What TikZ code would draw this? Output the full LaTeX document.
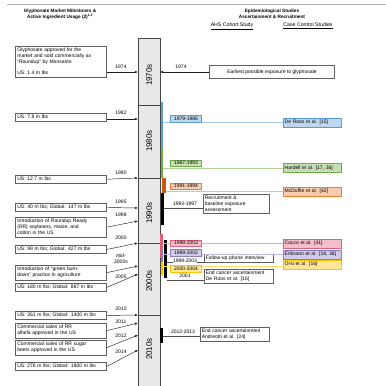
\documentclass[tikz,border=0pt]{standalone}
\usepackage{fontspec}
\setmainfont{Liberation Sans}
\usetikzlibrary{arrows.meta}

\definecolor{cblue}{HTML}{5B9BD5}
\definecolor{cgreen}{HTML}{70AD47}
\definecolor{corange}{HTML}{ED7D31}
\definecolor{cbrown}{HTML}{C55A11}
\definecolor{cred}{HTML}{E0607A}
\definecolor{cpurple}{HTML}{8E7CC3}
\definecolor{cyellow}{HTML}{FFC000}

\begin{document}
\begin{tikzpicture}[x=1pt,y=-1pt,>=Latex,
  txt/.style={font=\fontsize{5}{6}\selectfont},
  milestone/.style={txt,draw=gray!75!black,line width=0.7pt,fill=white,anchor=north west,align=left,text width=87pt,inner sep=2pt},
  note/.style={txt,draw=gray!75!black,line width=0.7pt,fill=white,anchor=north west,align=left,inner sep=1.5pt},
  yr/.style={txt,inner sep=0.5pt,align=center},
  tick/.style={-{Latex[length=3pt,width=2.4pt]},gray!25!black,line width=0.45pt},
  period/.style={txt,draw=#1,fill=#1!40,inner sep=0.8pt,minimum width=31pt,minimum height=6.5pt},
  study/.style={txt,draw=#1,fill=#1!40,anchor=west,align=left,text width=55pt,inner sep=1.5pt,minimum height=9pt},
  link/.style={#1!55,line width=0.6pt},
  decade/.style={rotate=90,font=\fontsize{8}{9}\selectfont}
]
\useasboundingbox (0,0) rectangle (386,386);

% Headings
\draw[gray!60,line width=0.8pt] (7,4) -- (386,4);
\node[font=\bfseries\fontsize{4.7}{5.8}\selectfont,align=center] (hdleft) at (60,14) {Glyphosate Market Milestones \&\\Active Ingredient Usage (2)\textsuperscript{1,2}};
\node[font=\bfseries\fontsize{4.7}{5.8}\selectfont,align=center] (hdright) at (272,14) {Epidemiological Studies\\Ascertainment \& Recruitment};
\node[font=\fontsize{5.2}{6}\selectfont] (ahs) at (232,26) {\underline{AHS Cohort Study}};
\node[font=\fontsize{5.2}{6}\selectfont] (ccs) at (308,26) {\underline{Case Control Studies}};

% Timeline column
\draw[fill=gray!18,draw=gray!55!black,line width=0.6pt] (138,38) rectangle (160,390);
\foreach \y in {105,178,243,315}
\draw[gray!55!black,line width=0.6pt] (138,\y) -- (160,\y);
\foreach \lbl/\y in {1970s/75,1980s/141,1990s/213,2000s/281,2010s/349}
\node[decade] (d\lbl) at (149,\y) {\lbl};

% Column edge points
\foreach \n/\y in {1974/72,1982/119,1990/178,1995/208,1998/221,2000/243,mid/266,2005/274,2010/315,2011/323,2012/335,2014/350}
\coordinate (L\n) at (138,\y);

% Market milestones
\node[milestone] (m1974) at (15,46) {Glyphosate approved for the\\market and sold commercially as\\``Roundup'' by Monsanto\\[5pt]US: 1.4 m lbs};
\node[milestone] (m1982) at (15,113) {US: 7.8 m lbs};
\node[milestone] (m1990) at (15,175) {US: 12.7 m lbs};
\node[milestone] (m1995) at (15,203) {US: 40 m lbs; Global: 147 m lbs};
\node[milestone] (m1998) at (15,217) {Introduction of Roundup Ready\\(RR) soybeans, maize, and\\cotton in the US};
\node[milestone] (m2000) at (15,245) {US: 99 m lbs; Global: 427 m lbs};
\node[milestone] (mmid) at (15,265) {Introduction of ``green burn-\\down'' practice in agriculture};
\node[milestone] (m2005) at (15,283) {US: 180 m lbs; Global: 887 m lbs};
\node[milestone] (m2010) at (15,311) {US: 261 m lbs; Global: 1400 m lbs};
\node[milestone] (m2011) at (15,323) {Commercial sales of RR\\alfalfa approved in the US};
\node[milestone] (m2012) at (15,340) {Commercial sales of RR sugar\\beets approved in the US};
\node[milestone] (m2014) at (15,362) {US: 276 m lbs; Global: 1800 m lbs};

\draw[tick] (m1974.east |- L1974) -- (L1974);
\draw[tick] (m1982.east |- L1982) -- (L1982);
\foreach \n in {1990,1995,1998,2000,mid,2005,2010,2011,2012,2014}
\draw[tick] (m\n.east) -- (L\n);

\foreach \n/\y in {1974/67,1982/113,1990/173,1995/202,1998/215,2000/238,2005/277,2010/309,2011/322,2012/336,2014/352}
\node[yr] (y\n) at (121,\y) {\n};
\node[yr] (ymid) at (121,259) {mid-\\2000s};

% 1974 exposure
\coordinate (R1974) at (160,72);
\node[note,anchor=center,minimum width=125pt,minimum height=13pt,align=center] (early) at (272,72) {Earliest possible exposure to glyphosate};
\draw[tick] (early.west) -- (R1974);
\node[yr] (r1974) at (181,67) {1974};

% Study boxes
\node[study=cblue] (deroos) at (283,122.5) {De Roos et al. [15]};
\node[study=cgreen] (hardell) at (283,168) {Hardell et al. [17, 36]};
\node[study=corange] (mcduffie) at (283,191.5) {McDuffie et al. [42]};
\node[study=cred] (cocco) at (283,243.5) {Cocco et al. [41]};
\node[study=cpurple] (eriksson) at (283,254.5) {Eriksson et al. [18, 36]};
\node[study=cyellow] (orsi) at (283,264.5) {Orsi et al. [16]};

\node[note,text width=63pt] (recruit) at (203,194) {Recruitment \&\\baseline exposure\\assessment};
\node[note,text width=66pt] (phone) at (204,254) {Follow-up phone interview};
\node[note,text width=66pt] (endDR) at (204,269) {End cancer ascertainment\\De Roos et al. [16]};
\node[note,text width=66pt] (endAN) at (200,327) {End cancer ascertainment\\Andreotti et al. [24]};

% Study periods (bars)
\fill[cblue] (160.5,102) rectangle (162.8,148);
\fill[cgreen] (160.5,148) rectangle (162.8,178);
\fill[cbrown] (162,178) rectangle (166,193);
\fill[black] (160.5,193) rectangle (164,225);
\fill[cred] (160,234) rectangle (163,258);
\fill[cpurple] (160.5,250) rectangle (163,262);
\fill[cyellow] (160.5,262) rectangle (163,275);
\fill[black] (164,240) rectangle (167,278);
\fill[black] (159.5,328) rectangle (163,343);

\coordinate (p7986) at (162.8,122.5);
\coordinate (p8793) at (162.8,168);
\coordinate (p9194) at (166,191.5);
\coordinate (p9397) at (164,208);
\coordinate (p9803) at (163,243.5);
\coordinate (p9902) at (163,254.5);
\coordinate (p9903) at (167,262);
\coordinate (p0004) at (163,266);
\coordinate (p2001) at (167,280);
\coordinate (p1213) at (163,336);

\draw[link=cblue] (p7986) -- (deroos.west);
\draw[link=cgreen] (p8793) -- (hardell.west);
\draw[link=corange] (p9194) -- (mcduffie.west);
\draw[link=cred] (p9803) -- (cocco.west);
\draw[link=cpurple] (p9902) -- (eriksson.west);
\draw[link=cyellow] (p0004) -- (p0004 -| orsi.west);
\draw[gray!60!black,line width=0.5pt] (p9397) -- (p9397 -| recruit.west);
\draw[gray!60!black,line width=0.5pt] (p9903) -- (p9903 -| phone.west);
\draw[gray!60!black,line width=0.5pt] (p2001) -- (p2001 -| endDR.west);
\draw[gray!60!black,line width=0.5pt] (p1213) -- (p1213 -| endAN.west);

\node[period=cblue] (t7986) at (186,118.5) {1979-1986};
\node[period=cgreen] (t8793) at (186,163) {1987-1993};
\node[period=corange] (t9194) at (186,186) {1991-1994};
\node[yr] (t9397) at (185,203.5) {1993-1997};
\node[period=cred] (t9803) at (186,243) {1998-2003};
\node[period=cpurple] (t9902) at (186,252.5) {1999-2002};
\node[yr,fill=white] (t9903) at (185,260.5) {1999-2003};
\node[period=cyellow] (t0004) at (186,268.5) {2000-2004};
\node[yr] (t2001) at (185,276) {2001};
\node[yr] (t1213) at (183,332) {2012-2013};
\end{tikzpicture}
\end{document}
